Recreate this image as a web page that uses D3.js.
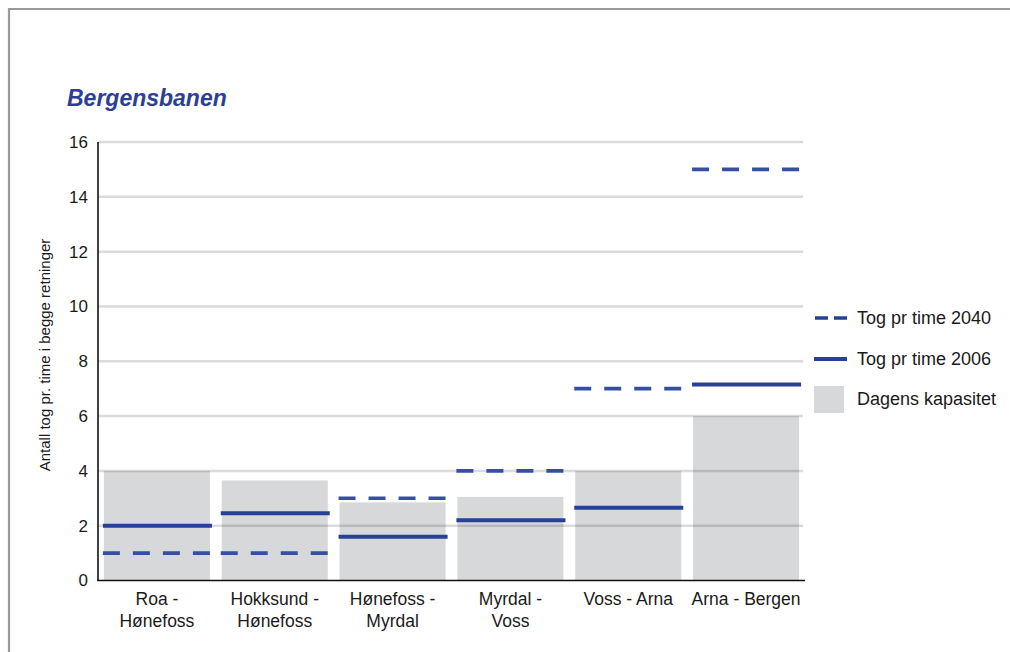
<!DOCTYPE html>
<html>
<head>
<meta charset="utf-8">
<script src="https://cdn.jsdelivr.net/npm/d3@7"></script>
<style>
  html, body { margin: 0; padding: 0; background: #ffffff; }
  svg { display: block; }
  text { font-family: "Liberation Sans", Arial, sans-serif; fill: #1a1a1a; }
</style>
</head>
<body>
<svg id="chart" width="1010" height="652"></svg>
<script>
// Strekninger på Bergensbanen
const categories = [
  ["Roa -", "Hønefoss"],
  ["Hokksund -", "Hønefoss"],
  ["Hønefoss -", "Myrdal"],
  ["Myrdal -", "Voss"],
  ["Voss - Arna"],
  ["Arna - Bergen"]
];
// Dagens kapasitet (tog pr time)
const capacity = [4, 3.65, 2.85, 3.05, 4, 6];
// Tog pr time 2006
const trains2006 = [2, 2.45, 1.6, 2.2, 2.65, 7.15];
// Tog pr time 2040
const trains2040 = [1, 1, 3, 4, 7, 15];
const yTicks = [0, 2, 4, 6, 8, 10, 12, 14, 16];

const legendItems = [
  { label: "Tog pr time 2040", kind: "dash" },
  { label: "Tog pr time 2006", kind: "solid" },
  { label: "Dagens kapasitet", kind: "box" }
];

const blue = "#27409a";
const blueDash = "#3550a3";
const barFill = "#d7d8da";

const svg = d3.select("#chart");

// page frame
svg.append("rect").attr("x", 0).attr("y", 0).attr("width", 1010).attr("height", 652).attr("fill", "#ffffff");
svg.append("path")
  .attr("d", "M9,660 L9,9 L1020,9")
  .attr("fill", "none").attr("stroke", "#999999").attr("stroke-width", 2.2);

const margin = { left: 98, right: 805, top: 142, bottom: 580.5 };

const x = d3.scaleBand()
  .domain(d3.range(categories.length))
  .range([margin.left, margin.right])
  .paddingInner(0.1)
  .paddingOuter(0.05);

const y = d3.scaleLinear().domain([0, 16]).range([margin.bottom, margin.top]);

// title
svg.append("text")
  .attr("x", 67).attr("y", 106)
  .style("font-size", "23px").style("font-weight", "bold").style("font-style", "italic")
  .style("fill", "#2c3f95")
  .text("Bergensbanen");

// capacity bars
svg.append("g").selectAll("rect")
  .data(capacity)
  .join("rect")
  .attr("x", (d, i) => x(i))
  .attr("width", x.bandwidth())
  .attr("y", d => y(d))
  .attr("height", d => y(0) - y(d))
  .attr("fill", barFill);

// gridlines drawn over the bars
svg.append("g").selectAll("line")
  .data(yTicks.filter(t => t > 0))
  .join("line")
  .attr("x1", margin.left).attr("x2", 803)
  .attr("y1", d => y(d)).attr("y2", d => y(d))
  .attr("stroke", "#000").attr("stroke-opacity", 0.14).attr("stroke-width", 2.5);

// 2040 dashed lines
svg.append("g").selectAll("line")
  .data(trains2040)
  .join("line")
  .attr("x1", (d, i) => x(i) - 1)
  .attr("x2", (d, i) => x(i) + x.bandwidth() + 1)
  .attr("y1", d => y(d)).attr("y2", d => y(d))
  .attr("stroke", blueDash).attr("stroke-width", 3.6)
  .attr("stroke-dasharray", "17,13");

// 2006 solid lines
svg.append("g").selectAll("line")
  .data(trains2006)
  .join("line")
  .attr("x1", (d, i) => x(i) - 1)
  .attr("x2", (d, i) => x(i) + x.bandwidth() + 2)
  .attr("y1", d => y(d)).attr("y2", d => y(d))
  .attr("stroke", blue).attr("stroke-width", 4);

// y axis
const yAxis = svg.append("g")
  .attr("transform", `translate(${margin.left},0)`)
  .call(d3.axisLeft(y).tickValues(yTicks).tickSize(0).tickPadding(10));
yAxis.select(".domain").attr("stroke", "#111").attr("stroke-width", 1.6)
  .attr("d", `M0,${margin.top}V${margin.bottom + 0.5}`);
yAxis.selectAll("text").style("font-size", "17px").attr("fill", "#1a1a1a")
  .style("font-family", "'Liberation Sans', Arial, sans-serif");

// x axis
const xAxis = svg.append("g")
  .attr("transform", `translate(0,${margin.bottom})`)
  .call(d3.axisBottom(x).tickSize(0).tickFormat(""));
xAxis.select(".domain").attr("stroke", "#111").attr("stroke-width", 1.6)
  .attr("d", `M${margin.left - 0.8},0H${margin.right}`);

// category labels (two lines)
svg.append("g").selectAll("text")
  .data(categories)
  .join("text")
  .attr("text-anchor", "middle")
  .style("font-size", "17.5px")
  .attr("transform", (d, i) => `translate(${x(i) + x.bandwidth() / 2},${margin.bottom + 24})`)
  .each(function(d) {
    const t = d3.select(this);
    d.forEach((line, k) => {
      t.append("tspan").attr("x", 0).attr("dy", k === 0 ? 0 : 22).text(line);
    });
  });

// y axis title
svg.append("text")
  .attr("transform", `translate(50,355) rotate(-90)`)
  .attr("text-anchor", "middle")
  .style("font-size", "15px")
  .text("Antall tog pr. time i begge retninger");

// legend
const legend = svg.append("g");
const legendY = [318, 359, 399];
legendItems.forEach((item, i) => {
  const cy = legendY[i];
  if (item.kind === "dash") {
    legend.append("line")
      .attr("x1", 815).attr("x2", 847).attr("y1", cy).attr("y2", cy)
      .attr("stroke", blue).attr("stroke-width", 3.6).attr("stroke-dasharray", "13,6");
  } else if (item.kind === "solid") {
    legend.append("line")
      .attr("x1", 814).attr("x2", 847).attr("y1", cy).attr("y2", cy)
      .attr("stroke", blue).attr("stroke-width", 3.8);
  } else {
    legend.append("rect")
      .attr("x", 814).attr("y", cy - 13).attr("width", 30).attr("height", 27)
      .attr("fill", barFill);
  }
  legend.append("text")
    .attr("x", 857).attr("y", cy + 6)
    .style("font-size", "18px")
    .text(item.label);
});
</script>
</body>
</html>
